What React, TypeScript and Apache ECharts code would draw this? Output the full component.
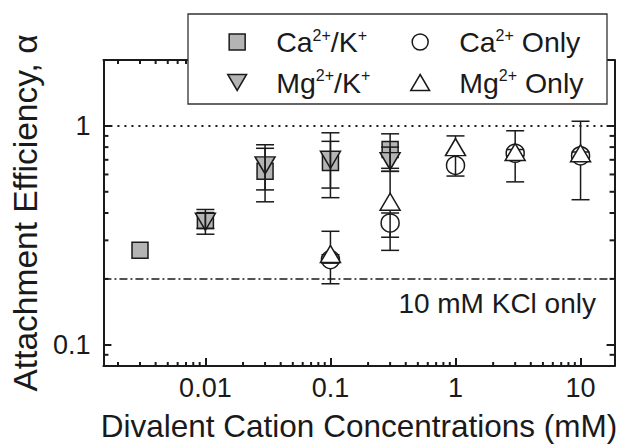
import React, { useEffect, useRef } from 'react';
import * as echarts from 'echarts';

// ---- axis extents (log scales) ----
const X_MIN = 0.00153;
const X_MAX = 18.7;
const Y_MIN = 0.08;
const Y_MAX = 2.0;

// minor tick positions on the log axes
const xMinorTicks = [
  0.002, 0.003, 0.004, 0.005, 0.006, 0.007, 0.008, 0.009,
  0.02, 0.03, 0.04, 0.05, 0.06, 0.07, 0.08, 0.09,
  0.2, 0.3, 0.4, 0.5, 0.6, 0.7, 0.8, 0.9,
  2, 3, 4, 5, 6, 7, 8, 9,
];
const yMinorTicks = [0.09, 0.2, 0.3, 0.4, 0.5, 0.6, 0.7, 0.8, 0.9];

// ---- reference lines ----
const REF_ONE = 1;
const KCL_ONLY = 0.205;

// ---- data: concentration (mM), alpha, error low, error high ----
const caKX = [0.003, 0.01, 0.03, 0.1, 0.3];
const caKY = [0.27, 0.37, 0.62, 0.68, 0.78];
const caKLo = [null, 0.34, 0.51, 0.52, 0.64];
const caKHi = [null, 0.40, 0.79, 0.85, 0.92];

const mgKX = [0.01, 0.03, 0.1, 0.3];
const mgKY = [0.365, 0.66, 0.70, 0.69];
const mgKLo = [0.32, 0.45, 0.47, 0.62];
const mgKHi = [0.415, 0.82, 0.93, 0.80];

const caOnlyX = [0.1, 0.3, 1, 3, 10];
const caOnlyY = [0.245, 0.36, 0.66, 0.75, 0.73];
const caOnlyLo = [0.236, 0.31, 0.59, 0.73, 0.71];
const caOnlyHi = [0.258, 0.40, 0.75, 0.78, 0.76];

const mgOnlyX = [0.1, 0.3, 1, 3, 10];
const mgOnlyY = [0.26, 0.45, 0.80, 0.76, 0.75];
const mgOnlyLo = [0.19, 0.27, 0.75, 0.555, 0.46];
const mgOnlyHi = [0.33, 0.62, 0.90, 0.95, 1.05];

const FONT = '"Liberation Sans", Arial, Helvetica, sans-serif';
const INK = '#1a1a1a';
const GRAY = '#b4b4b4';

const pts = (xs: number[], ys: number[]) => xs.map((x, i) => [x, ys[i]]);
const errs = (xs: number[], ys: number[], lo: (number | null)[], hi: (number | null)[]) =>
  xs
    .map((x, i) => [x, ys[i], lo[i], hi[i]])
    .filter((d) => d[2] != null && d[3] != null);

const errRender = (_p: any, api: any) => {
  const x = api.value(0);
  const a = api.coord([x, api.value(2)]);
  const b = api.coord([x, api.value(3)]);
  const hw = 9;
  const style = { stroke: INK, lineWidth: 1.5, fill: 'none' };
  return {
    type: 'group',
    children: [
      { type: 'line', shape: { x1: a[0], y1: a[1], x2: b[0], y2: b[1] }, style },
      { type: 'line', shape: { x1: a[0] - hw, y1: a[1], x2: a[0] + hw, y2: a[1] }, style },
      { type: 'line', shape: { x1: b[0] - hw, y1: b[1], x2: b[0] + hw, y2: b[1] }, style },
    ],
  };
};

const errSeries = (name: string, data: any[], z: number) => ({
  type: 'custom',
  name: name + ' err',
  coordinateSystem: 'cartesian2d',
  dimensions: ['x', 'y', 'lo', 'hi'],
  encode: { x: 'x', y: 'y' },
  data,
  renderItem: errRender,
  silent: true,
  z,
});

const tickStyle = { stroke: INK, lineWidth: 2 };

const ICON_SQUARE = 'path://M0,0 L10,0 L10,10 L0,10 Z';
const ICON_CIRCLE = 'path://M0,8 A8,8 0 1,0 16,8 A8,8 0 1,0 0,8 Z';
const ICON_TRI_DOWN = 'path://M0,0 L20,0 L10,17 Z';
const ICON_TRI_UP = 'path://M10,0 L20,17 L0,17 Z';

const labelFmt = (v: number) => {
  const e = Math.log10(v);
  if (Math.abs(e - Math.round(e)) > 1e-6) return '';
  return String(+v.toPrecision(6));
};

const legendRich = {
  n: { fontSize: 28.5, lineHeight: 30, fontFamily: FONT, color: INK },
  s: { fontSize: 16, lineHeight: 14, fontFamily: FONT, color: INK, verticalAlign: 'top' },
};

const legendNames: Record<string, string> = {
  'Ca/K': '{n|Ca}{s|2+}{n|/K}{s|+}',
  'Mg/K': '{n|Mg}{s|2+}{n|/K}{s|+}',
  'Ca only': '{n|Ca}{s|2+}{n| Only}',
  'Mg only': '{n|Mg}{s|2+}{n| Only}',
};

const legendCommon = {
  orient: 'vertical',
  top: 27,
  padding: 0,
  itemWidth: 68,
  itemHeight: 16,
  itemGap: 11,
  symbolKeepAspect: true,
  selectedMode: false,
  z: 20,
  formatter: (n: string) => legendNames[n] || n,
  textStyle: { rich: legendRich, fontFamily: FONT, color: INK },
};

export default function App() {
  const ref = useRef<HTMLDivElement>(null);

  useEffect(() => {
    if (!ref.current) return;
    const chart = echarts.init(ref.current, undefined, { renderer: 'svg' });

    const logAxisBase = {
      type: 'log',
      logBase: 10,
      splitLine: { show: false },
      axisLine: { show: true, onZero: false, lineStyle: { color: INK, width: 2 } },
      axisTick: { show: true, inside: true, length: 8, lineStyle: { color: INK, width: 2 } },
    };

    const option: any = {
      animation: false,
      backgroundColor: '#ffffff',
      textStyle: { fontFamily: FONT },
      grid: { left: 101, top: 60, right: 1, bottom: 79, containLabel: false },
      xAxis: [
        {
          ...logAxisBase,
          position: 'bottom',
          min: X_MIN,
          max: X_MAX,
          name: 'Divalent Cation Concentrations (mM)',
          nameLocation: 'middle',
          nameGap: 44,
          nameTextStyle: { fontSize: 31.5, fontFamily: FONT, color: INK },
          axisLabel: {
            show: true,
            margin: 8,
            fontSize: 27,
            fontFamily: FONT,
            color: INK,
            showMinLabel: false,
            showMaxLabel: false,
            formatter: labelFmt,
          },
        },
        {
          ...logAxisBase,
          position: 'top',
          min: X_MIN,
          max: X_MAX,
          axisLabel: { show: false },
        },
      ],
      yAxis: [
        {
          ...logAxisBase,
          position: 'left',
          min: Y_MIN,
          max: Y_MAX,
          name: 'Attachment Efficiency, α',
          nameLocation: 'middle',
          nameGap: 49,
          nameTextStyle: { fontSize: 33.5, fontFamily: FONT, color: INK },
          axisLabel: {
            show: true,
            margin: 13,
            fontSize: 27,
            fontFamily: FONT,
            color: INK,
            showMinLabel: false,
            showMaxLabel: false,
            formatter: labelFmt,
          },
        },
        {
          ...logAxisBase,
          position: 'right',
          min: Y_MIN,
          max: Y_MAX,
          axisLabel: { show: false },
        },
      ],
      legend: [
        {
          ...legendCommon,
          left: 227,
          data: [
            { name: 'Ca/K', icon: ICON_SQUARE, itemStyle: { color: GRAY, borderColor: INK, borderWidth: 1.5 } },
            { name: 'Mg/K', icon: ICON_TRI_DOWN, itemStyle: { color: GRAY, borderColor: INK, borderWidth: 1.5 } },
          ],
        },
        {
          ...legendCommon,
          left: 410,
          data: [
            { name: 'Ca only', icon: ICON_CIRCLE, itemStyle: { color: '#ffffff', borderColor: INK, borderWidth: 1.5 } },
            { name: 'Mg only', icon: ICON_TRI_UP, itemStyle: { color: '#ffffff', borderColor: INK, borderWidth: 1.5 } },
          ],
        },
      ],
      graphic: [
        {
          type: 'rect',
          z: 10,
          shape: { x: 188, y: 14, width: 419, height: 90 },
          style: { fill: '#ffffff', stroke: '#333333', lineWidth: 1.3 },
        },
        {
          type: 'text',
          z: 10,
          x: 596,
          y: 303,
          style: {
            text: '10 mM KCl only',
            fontSize: 28,
            fontFamily: FONT,
            fill: INK,
            align: 'right',
            verticalAlign: 'middle',
          },
        },
      ],
      series: [
        // minor ticks (positions from the axis scales)
        {
          type: 'custom',
          name: 'x minor',
          coordinateSystem: 'cartesian2d',
          data: xMinorTicks.map((v) => [v, Y_MIN]),
          silent: true,
          z: 1,
          renderItem: (_p: any, api: any) => {
            const v = api.value(0);
            const b = api.coord([v, Y_MIN]);
            const t = api.coord([v, Y_MAX]);
            return {
              type: 'group',
              children: [
                { type: 'line', shape: { x1: b[0], y1: b[1], x2: b[0], y2: b[1] - 4 }, style: tickStyle },
                { type: 'line', shape: { x1: t[0], y1: t[1], x2: t[0], y2: t[1] + 4 }, style: tickStyle },
              ],
            };
          },
        },
        {
          type: 'custom',
          name: 'y minor',
          coordinateSystem: 'cartesian2d',
          data: yMinorTicks.map((v) => [X_MIN, v]),
          silent: true,
          z: 1,
          renderItem: (_p: any, api: any) => {
            const v = api.value(1);
            const l = api.coord([X_MIN, v]);
            const r = api.coord([X_MAX, v]);
            return {
              type: 'group',
              children: [
                { type: 'line', shape: { x1: l[0], y1: l[1], x2: l[0] + 5, y2: l[1] }, style: tickStyle },
                { type: 'line', shape: { x1: r[0], y1: r[1], x2: r[0] - 5, y2: r[1] }, style: tickStyle },
              ],
            };
          },
        },
        {
          type: 'scatter',
          name: 'Ca/K',
          data: pts(caKX, caKY),
          symbol: 'rect',
          symbolSize: 16,
          itemStyle: { color: GRAY, borderColor: INK, borderWidth: 1.5, opacity: 1 },
          z: 3,
          markLine: {
            silent: true,
            symbol: ['none', 'none'],
            label: { show: false },
            lineStyle: { color: INK, width: 1.6 },
            data: [
              { yAxis: REF_ONE, lineStyle: { type: [2, 5], color: INK, width: 1.8 } },
              { yAxis: KCL_ONLY, lineStyle: { type: [8, 3, 2, 3], color: INK, width: 1.6 } },
            ],
          },
        },
        {
          type: 'scatter',
          name: 'Mg/K',
          data: pts(mgKX, mgKY),
          symbol: 'triangle',
          symbolRotate: 180,
          symbolSize: [20, 17],
          itemStyle: { color: GRAY, borderColor: INK, borderWidth: 1.5, opacity: 1 },
          z: 4,
        },
        errSeries('Ca/K', errs(caKX, caKY, caKLo, caKHi), 5),
        errSeries('Mg/K', errs(mgKX, mgKY, mgKLo, mgKHi), 5),
        errSeries('Mg only', errs(mgOnlyX, mgOnlyY, mgOnlyLo, mgOnlyHi), 6),
        {
          type: 'scatter',
          name: 'Ca only',
          data: pts(caOnlyX, caOnlyY),
          symbol: 'circle',
          symbolSize: 18,
          itemStyle: { color: '#ffffff', borderColor: INK, borderWidth: 1.5, opacity: 1 },
          z: 7,
        },
        errSeries('Ca only', errs(caOnlyX, caOnlyY, caOnlyLo, caOnlyHi), 8),
        {
          type: 'scatter',
          name: 'Mg only',
          data: pts(mgOnlyX, mgOnlyY),
          symbol: 'triangle',
          symbolSize: [20, 17],
          itemStyle: { color: '#ffffff', borderColor: INK, borderWidth: 1.5, opacity: 1 },
          z: 9,
        },
      ],
    };

    chart.setOption(option);
    return () => chart.dispose();
  }, []);

  return (
    <div
      ref={ref}
      style={{ position: 'fixed', left: 0, top: 0, width: 619, height: 447, background: '#fff' }}
    />
  );
}
